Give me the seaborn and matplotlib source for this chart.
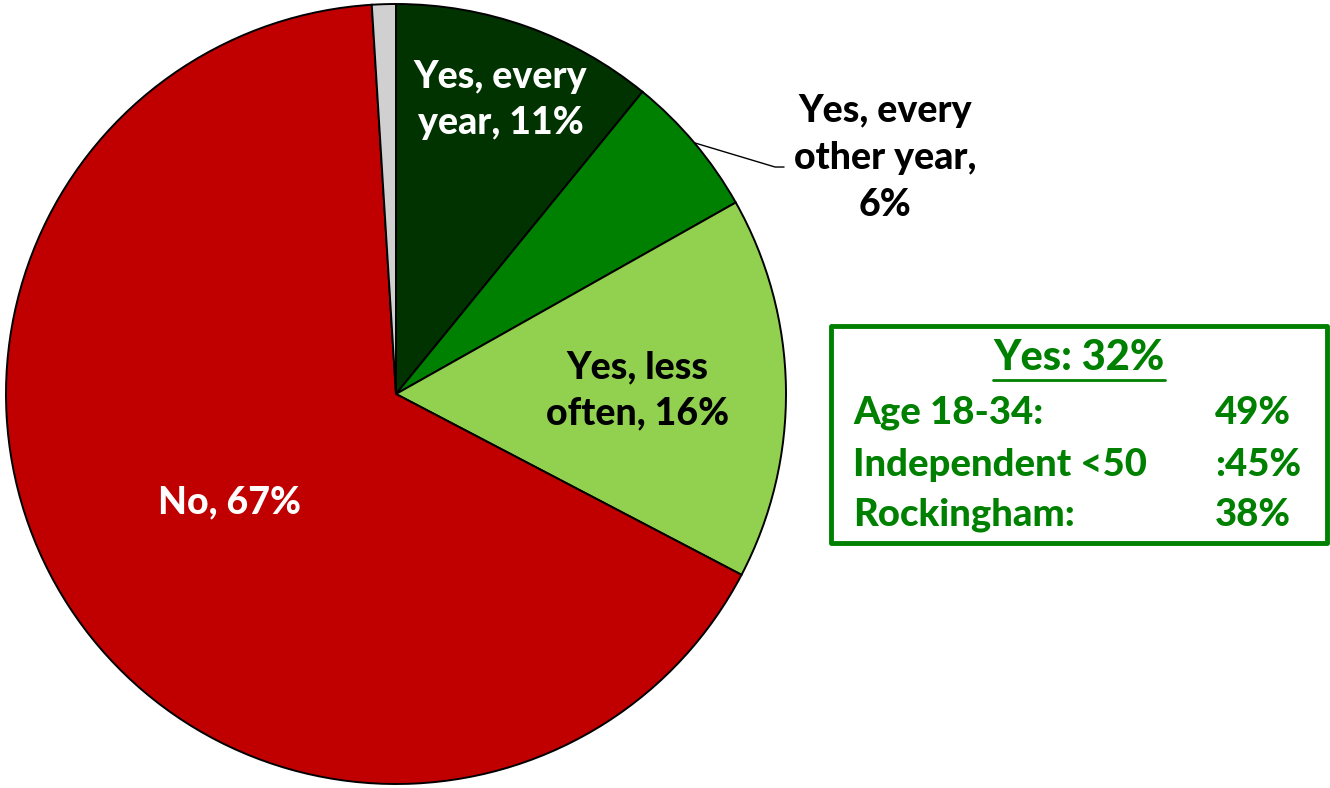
import numpy as np
import matplotlib
matplotlib.use("Agg")
import matplotlib.pyplot as plt
import seaborn as sns

# Survey responses (percent), clockwise from 12 o'clock
categories = ["Yes, every year", "Yes, every other year", "Yes, less often", "No", "Don't know"]
values = [11, 6, 16, 67, 1]
colors = ["#003300", "#008000", "#92D050", "#C00000", "#D0D0D0"]
# How each slice label is wrapped ({v} is the slice value)
label_fmt = ["Yes, every\nyear, {v}%", "Yes, every\nother year,\n{v}%",
             "Yes, less\noften, {v}%", "No, {v}%", None]

# Subgroup breakdown of "Yes"
yes_total = 32
sub_labels = ["Age 18-34:", "Independent <50", "Rockingham:"]
sub_values = ["49%", ":45%", "38%"]

sns.set_theme(style="white")
plt.rcParams["font.family"] = ["Lato", "DejaVu Sans"]

W, H = 1330, 788
fig = plt.figure(figsize=(W / 100, H / 100), dpi=100)
cx, cy, R = 396, 394, 390
ax = fig.add_axes([(cx - R) / W, (H - cy - R) / H, 2 * R / W, 2 * R / H])

wedges, _ = ax.pie(values, colors=colors, startangle=90, counterclock=False,
                   radius=1.0, wedgeprops=dict(edgecolor="black", linewidth=1.4))
ax.set_xlim(-1, 1)
ax.set_ylim(-1, 1)
ax.set_aspect("equal")
ax.axis("off")

fs = 27
txt = dict(fontsize=fs, fontweight="black", ha="center", va="center", linespacing=1.45)


def mid_angle(w):
    return np.deg2rad((w.theta1 + w.theta2) / 2)


def label_text(i):
    return label_fmt[i].format(v=values[i])


# Inside labels
inside = {0: (0.80, "white"), 2: (0.62, "black"), 3: (0.51, "white")}
for i, (rf, col) in inside.items():
    a = mid_angle(wedges[i])
    ax.text(rf * np.cos(a), rf * np.sin(a), label_text(i), color=col, **txt)

# Outside label with leader line for the thin slice
a = mid_angle(wedges[1])
p0 = (np.cos(a), np.sin(a))
ax.plot([p0[0], 0.972, 0.995], [p0[1], 0.582, 0.582], color="black", lw=1.0, clip_on=False)
ax.text(1.254, 0.605, label_text(1), color="black", clip_on=False, **txt)

# Subgroup box
green = "#008000"
bx0, by0, bx1, by1 = 831, 326, 1327, 543
box = plt.Rectangle((bx0 / W, 1 - by1 / H), (bx1 - bx0) / W, (by1 - by0) / H,
                    transform=fig.transFigure, fill=False, edgecolor=green, linewidth=3.5,
                    joinstyle="round")
fig.add_artist(box)
fig.text(1079 / W, 1 - 358 / H, f"Yes: {yes_total}%", color=green, fontsize=30,
         fontweight="black", ha="center", va="center")
fig.add_artist(plt.Line2D([993 / W, 1165 / W], [1 - 380 / H, 1 - 380 / H],
                          transform=fig.transFigure, color=green, lw=2))
rows_y = [413, 465, 515]
for lab, val, y in zip(sub_labels, sub_values, rows_y):
    fig.text(853 / W, 1 - y / H, lab, color=green, fontsize=27.5, fontweight="black",
             ha="left", va="center")
    fig.text(1215 / W, 1 - y / H, val, color=green, fontsize=27.5, fontweight="black",
             ha="left", va="center")

fig.savefig("out.png", dpi=100, facecolor="white")
